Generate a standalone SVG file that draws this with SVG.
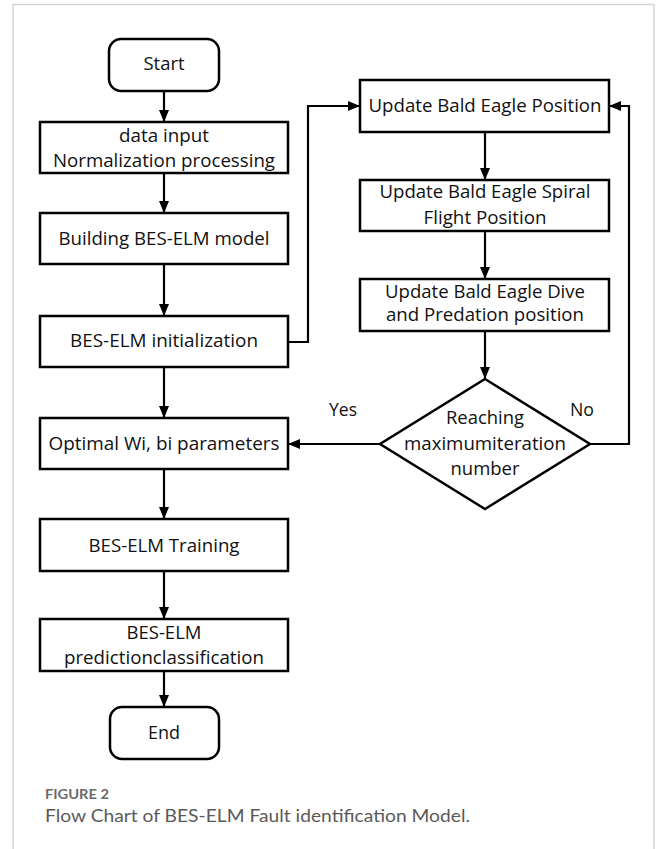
<svg xmlns="http://www.w3.org/2000/svg" width="656" height="849" viewBox="0 0 656 849">
<defs>
<marker id="ah" markerWidth="12" markerHeight="12" viewBox="0 0 12 12" refX="11" refY="6" orient="auto" markerUnits="userSpaceOnUse">
<path d="M0,1 L12,6 L0,11 Z" fill="#000"/>
</marker>
<style>
.box{fill:#fff;stroke:#000;stroke-width:2.5}
.t{font-family:"Open Sans","Liberation Sans",sans-serif;font-size:18px;fill:#111;text-anchor:middle}
.lbl{font-family:"Open Sans","Liberation Sans",sans-serif;font-size:18px;fill:#111}
.c{fill:none;stroke:#000;stroke-width:2.2}
.frame{stroke:#d4d4d4;stroke-width:1.5;fill:none}
</style>
</defs>
<rect x="0" y="0" width="656" height="849" fill="#fff"/>
<path class="frame" d="M13,849 V4.5 H654 V849"/>

<g id="connectors">
<path class="c" d="M164,91 V121" marker-end="url(#ah)"/>
<path class="c" d="M164,173 V212" marker-end="url(#ah)"/>
<path class="c" d="M164,264 V315" marker-end="url(#ah)"/>
<path class="c" d="M164,367 V417" marker-end="url(#ah)"/>
<path class="c" d="M288,342 H308 V106 H359" marker-end="url(#ah)"/>
<path class="c" d="M485,132 V179" marker-end="url(#ah)"/>
<path class="c" d="M485,231 V278" marker-end="url(#ah)"/>
<path class="c" d="M485,331 V378" marker-end="url(#ah)"/>
<path class="c" d="M380,444 H289" marker-end="url(#ah)"/>
<path class="c" d="M590,444 H629 V106 H610" marker-end="url(#ah)"/>
<path class="c" d="M164,469 V518" marker-end="url(#ah)"/>
<path class="c" d="M164,571 V618" marker-end="url(#ah)"/>
<path class="c" d="M164,671 V706" marker-end="url(#ah)"/>
<text class="lbl" x="329" y="416" textLength="28" lengthAdjust="spacingAndGlyphs">Yes</text>
<text class="lbl" x="570" y="416" textLength="24" lengthAdjust="spacingAndGlyphs">No</text>
</g>

<g id="start">
<rect class="box" x="109" y="39" width="110" height="52" rx="12"/>
<text class="t" x="164" y="70" textLength="41" lengthAdjust="spacingAndGlyphs">Start</text>
</g>
<g id="data-input">
<rect class="box" x="40" y="122" width="248" height="51"/>
<text class="t" x="164" y="142" textLength="90" lengthAdjust="spacingAndGlyphs">data input</text>
<text class="t" x="164" y="167" textLength="222" lengthAdjust="spacingAndGlyphs">Normalization processing</text>
</g>
<g id="building">
<rect class="box" x="40" y="213" width="248" height="51"/>
<text class="t" x="164" y="245" textLength="211" lengthAdjust="spacingAndGlyphs">Building BES-ELM model</text>
</g>
<g id="init">
<rect class="box" x="40" y="316" width="248" height="51"/>
<text class="t" x="164" y="347" textLength="188" lengthAdjust="spacingAndGlyphs">BES-ELM initialization</text>
</g>
<g id="optimal">
<rect class="box" x="40" y="418" width="248" height="51"/>
<text class="t" x="164" y="450" textLength="231" lengthAdjust="spacingAndGlyphs">Optimal Wi, bi parameters</text>
</g>
<g id="training">
<rect class="box" x="40" y="519" width="248" height="52"/>
<text class="t" x="164" y="552" textLength="151" lengthAdjust="spacingAndGlyphs">BES-ELM Training</text>
</g>
<g id="prediction">
<rect class="box" x="40" y="619" width="248" height="52"/>
<text class="t" x="164" y="639" textLength="75" lengthAdjust="spacingAndGlyphs">BES-ELM</text>
<text class="t" x="164" y="664" textLength="200" lengthAdjust="spacingAndGlyphs">predictionclassification</text>
</g>
<g id="end">
<rect class="box" x="110" y="707" width="109" height="52" rx="12"/>
<text class="t" x="164" y="739" textLength="32" lengthAdjust="spacingAndGlyphs">End</text>
</g>

<g id="update-position">
<rect class="box" x="360" y="80" width="249" height="52"/>
<text class="t" x="485" y="112" textLength="233" lengthAdjust="spacingAndGlyphs">Update Bald Eagle Position</text>
</g>
<g id="update-spiral">
<rect class="box" x="360" y="180" width="249" height="51"/>
<text class="t" x="485" y="198" textLength="211" lengthAdjust="spacingAndGlyphs">Update Bald Eagle Spiral</text>
<text class="t" x="485" y="224" textLength="123" lengthAdjust="spacingAndGlyphs">Flight Position</text>
</g>
<g id="update-dive">
<rect class="box" x="360" y="279" width="249" height="52"/>
<text class="t" x="485" y="298" textLength="200" lengthAdjust="spacingAndGlyphs">Update Bald Eagle Dive</text>
<text class="t" x="485" y="321" textLength="198" lengthAdjust="spacingAndGlyphs">and Predation position</text>
</g>
<g id="decision">
<polygon class="box" points="485,379 590,444 485,509 380,444"/>
<text class="t" x="485" y="424" textLength="78" lengthAdjust="spacingAndGlyphs">Reaching</text>
<text class="t" x="485" y="450" textLength="162" lengthAdjust="spacingAndGlyphs">maximumiteration</text>
<text class="t" x="485" y="475" textLength="69" lengthAdjust="spacingAndGlyphs">number</text>
</g>

<g id="caption">
<text x="45" y="799" font-family="Lato,'Open Sans',sans-serif" font-size="13.5" font-weight="bold" fill="#6a6a6a" textLength="64" lengthAdjust="spacingAndGlyphs">FIGURE 2</text>
<text x="45" y="822" font-family="Lato,'Open Sans',sans-serif" font-size="18" fill="#5a5a5a" textLength="425" lengthAdjust="spacingAndGlyphs">Flow Chart of BES-ELM Fault identification Model.</text>
</g>
</svg>
